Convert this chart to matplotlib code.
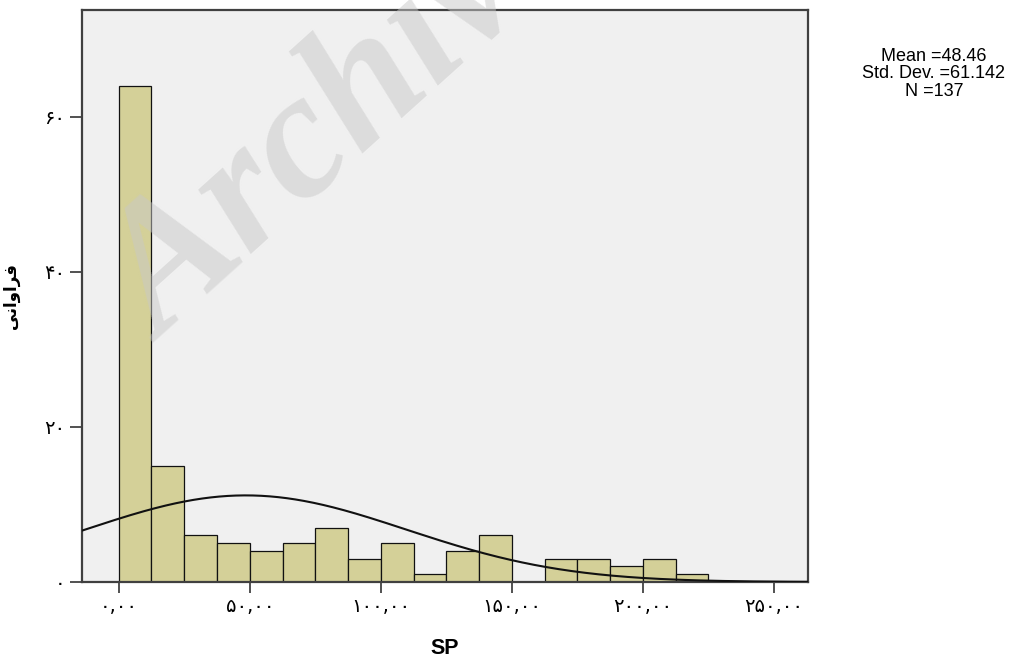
import numpy as np
import matplotlib
matplotlib.use("Agg")
import matplotlib.pyplot as plt

# Histogram of SP (frequency per bin), bin width 12.5 starting at 0
bin_edges = [0, 12.5, 25, 37.5, 50, 62.5, 75, 87.5, 100, 112.5, 125, 137.5,
             150, 162.5, 175, 187.5, 200, 212.5, 225]
counts = [64, 15, 6, 5, 4, 5, 7, 3, 5, 1, 4, 6, 0, 3, 3, 2, 3, 1]

mean_sp = 48.46
std_sp = 61.142
n_sp = 137

x_ticks = [0, 50, 100, 150, 200, 250]
x_tick_labels = ["۰,۰۰", "۵۰,۰۰", "۱۰۰,۰۰", "۱۵۰,۰۰", "۲۰۰,۰۰", "۲۵۰,۰۰"]
y_ticks = [0, 20, 40, 60]
y_tick_labels = ["۰", "۲۰", "۴۰", "۶۰"]

# "فراوانی" written with presentation forms in visual order
y_label = "\uFBFD\uFEE7\uFE8D\uFEED\uFE8D\uFEAE\uFED3"
x_label = "SP"

persian_font = ["DejaVu Sans"]
latin_font = ["Liberation Sans", "DejaVu Sans"]

fig = plt.figure(figsize=(10.14, 6.60), dpi=100)
ax = fig.add_axes([0.0809, 0.1182, 0.7159, 0.8666])
ax.set_facecolor("#F0F0F0")

widths = np.diff(bin_edges)
ax.bar(bin_edges[:-1], counts, width=widths, align="edge",
       color="#D4D098", edgecolor="#111111", linewidth=0.9, zorder=2)

xmin, xmax = -14.0, 263.0
ax.set_xlim(xmin, xmax)
ax.set_ylim(0, 73.8)

# Fitted normal curve scaled to counts
bw = bin_edges[1] - bin_edges[0]
xs = np.linspace(xmin, xmax, 600)
ys = n_sp * bw / (std_sp * np.sqrt(2 * np.pi)) * np.exp(-0.5 * ((xs - mean_sp) / std_sp) ** 2)
ax.plot(xs, ys, color="#111111", linewidth=1.5, zorder=3)

ax.set_xticks(x_ticks)
ax.set_xticklabels(x_tick_labels, fontfamily=persian_font, fontsize=14)
ax.set_yticks(y_ticks)
ax.set_yticklabels(y_tick_labels, fontfamily=persian_font, fontsize=14)
ax.tick_params(axis="x", length=8, width=1.2, color="#333333", pad=3)
ax.tick_params(axis="y", length=9, width=1.2, color="#333333", pad=3)

for sp in ax.spines.values():
    sp.set_color("#404040")
    sp.set_linewidth(1.6)

ax.set_ylabel(y_label, fontfamily=persian_font, fontsize=12, fontweight="bold")
ax.yaxis.set_label_coords(-0.085, 0.5)
ax.set_xlabel(x_label, fontfamily=latin_font, fontsize=15.5, fontweight="bold")
ax.xaxis.set_label_coords(0.5, -0.098)

stats_lines = [f"Mean ={mean_sp:.2f}", f"Std. Dev. ={std_sp:.3f}", f"N ={n_sp}"]
stats_y = [0.915, 0.889, 0.862]
for line, yy in zip(stats_lines, stats_y):
    fig.text(0.921, yy, line, ha="center", va="center",
             fontfamily=latin_font, fontsize=13)

# Diagonal watermark
fig.text(0.160, 0.480, "Archive of SID", rotation=42, rotation_mode="anchor",
         ha="left", va="baseline", fontfamily=["Liberation Serif", "DejaVu Serif"],
         fontsize=130, fontweight="bold", fontstyle="italic",
         color="#C8C8C8", alpha=0.5, zorder=5)

fig.savefig("out.png", dpi=100)
